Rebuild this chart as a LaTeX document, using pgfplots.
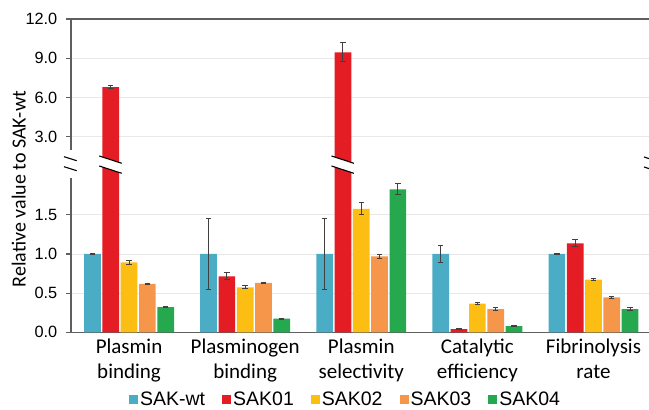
\documentclass[border=0pt]{standalone}
\usepackage{pgfplots}
\pgfplotsset{compat=1.18}
\usepackage{fontspec}
\setmainfont{Liberation Sans}
\newfontfamily\calib{Carlito}
\definecolor{cwt}{RGB}{75,172,198}
\definecolor{c01}{RGB}{228,28,36}
\definecolor{c02}{RGB}{253,190,20}
\definecolor{c03}{RGB}{245,150,75}
\definecolor{c04}{RGB}{38,168,78}
\definecolor{axc}{RGB}{95,95,95}
\definecolor{gridc}{RGB}{232,232,232}
\definecolor{errc}{RGB}{64,64,64}
\pgfplotstableread{
x  wt    ewt    s01    e01    s02    e02    s03    e03    s04    e04
0  1.0   0.01   6.78   0.1    0.894  0.022  0.617  0.011  0.323  0.006
1  1.0   0.45   0.715  0.045  0.575  0.022  0.63   0.009  0.174  0.006
2  1.0   0.45   9.45   0.73   1.575  0.077  0.97   0.025  1.826  0.07
3  1.0   0.11   0.042  0.005  0.366  0.009  0.297  0.015  0.08   0.005
4  1.0   0.006  1.137  0.043  0.672  0.012  0.447  0.01   0.297  0.015
}\datatab
\pgfplotsset{
  common/.style={
    scale only axis, width=578pt, xmin=-0.5, xmax=4.478,
    xtick={0,1,2,3,4}, xtick style={draw=none},
    axis y line*=left,
    axis line style={axc, line width=1.4pt, -},
    ymajorgrids, grid style={gridc, line width=0.9pt},
    tick align=outside, ytick style={axc, line width=1.2pt}, major tick length=4.5pt,
    /pgf/number format/assume math mode=true,
    yticklabel style={font=\fontsize{16.3}{19}\selectfont, inner sep=0pt, xshift=-9pt,
      /pgf/number format/fixed, /pgf/number format/fixed zerofill, /pgf/number format/precision=1},
    ybar=1.6pt, bar width=16.7pt,
    clip=true,
  },
  err/.style={error bars/.cd, y dir=both, y explicit,
    error bar style={errc, line width=1pt},
    error mark options={errc, rotate=90, mark size=2.7pt, line width=1pt}},
}
\begin{document}
\begin{tikzpicture}
\useasboundingbox (0,0) rectangle (649pt,410pt);
% lower part
\begin{axis}[common, at={(71pt,77.7pt)}, anchor=south west, height=182.3pt,
  ymin=0, ymax=2.328, ytick={0,0.5,1,1.5},
  axis x line*=bottom,
  xticklabels={{Plasmin\\binding},{Plasminogen\\binding},{Plasmin\\selectivity},{Catalytic\\efficiency},{Fibrinolysis\\rate}},
  xticklabel style={align=center, font=\calib\fontsize{21}{25}\selectfont, inner sep=0pt, yshift=-2pt},
  legend columns=5,
  legend style={at={(0.475,-0.371)}, anchor=center, draw=none, fill=none,
    font=\fontsize{19.5}{22}\selectfont, inner sep=0pt,
    /tikz/every even column/.append style={column sep=15pt}},
  legend image code/.code={\fill[#1] (0pt,-4.5pt) rectangle (9pt,4.5pt);},
]
\addplot[fill=cwt, draw=none, err] table[x=x, y=wt, y error=ewt] {\datatab};
\addplot[fill=c01, draw=none, err] table[x=x, y=s01, y error=e01] {\datatab};
\addplot[fill=c02, draw=none, err] table[x=x, y=s02, y error=e02] {\datatab};
\addplot[fill=c03, draw=none, err] table[x=x, y=s03, y error=e03] {\datatab};
\addplot[fill=c04, draw=none, err] table[x=x, y=s04, y error=e04] {\datatab};
\legend{SAK-wt,SAK01,SAK02,SAK03,SAK04}
\end{axis}
% upper part (only SAK01 reaches it; the other series only keep the bar positions)
\begin{axis}[common, at={(71pt,260pt)}, anchor=south west, height=131pt,
  ymin=1.98, ymax=12, ytick={3,6,9,12},
  axis x line*=top, xticklabels={},
]
\addplot[fill=none, draw=none] table[x=x, y=wt] {\datatab};
\addplot[fill=c01, draw=none, restrict y to domain=2:20, err] table[x=x, y=s01, y error=e01] {\datatab};
\addplot[fill=none, draw=none] table[x=x, y=s02] {\datatab};
\addplot[fill=none, draw=none] table[x=x, y=s03] {\datatab};
\addplot[fill=none, draw=none] table[x=x, y=s04] {\datatab};
\end{axis}
% axis break marks
\fill[white] (65pt,232pt) rectangle (77pt,260pt);
\draw[black, line width=1.1pt] (64pt,253.3pt) -- (76.7pt,249.3pt) (64pt,243.3pt) -- (76.7pt,239.3pt);
\fill[white] (99.3pt,254pt) -- (121.7pt,246.7pt) -- (121.7pt,236.7pt) -- (99.3pt,244pt) -- cycle;
\draw[black, line width=1.1pt] (99.3pt,254pt) -- (121.7pt,246.7pt) (99.3pt,244pt) -- (121.7pt,236.7pt);
\fill[white] (331.5pt,254pt) -- (353.9pt,246.7pt) -- (353.9pt,236.7pt) -- (331.5pt,244pt) -- cycle;
\draw[black, line width=1.1pt] (331.5pt,254pt) -- (353.9pt,246.7pt) (331.5pt,244pt) -- (353.9pt,236.7pt);
\draw[black, line width=1.1pt] (644pt,253pt) -- (656pt,249pt) (644pt,243pt) -- (656pt,239pt);
\node[rotate=90, anchor=base, font=\calib\fontsize{20}{24}\selectfont] at (25.5pt,221pt) {Relative value to SAK-wt};
\end{tikzpicture}
\end{document}
